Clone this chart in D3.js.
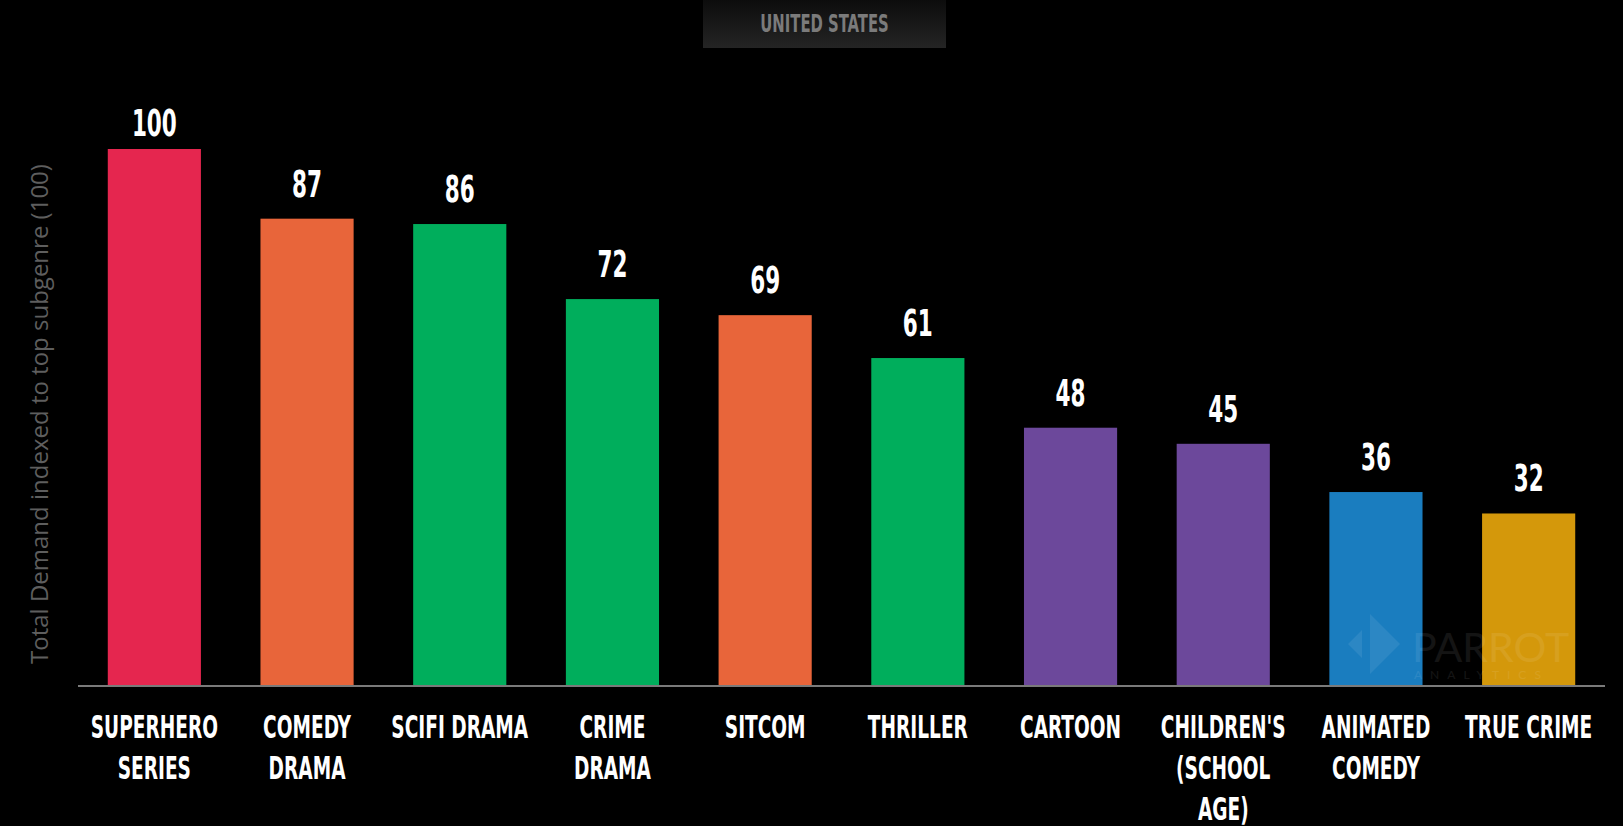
<!DOCTYPE html>
<html>
<head>
<meta charset="utf-8">
<script src="https://cdn.jsdelivr.net/npm/d3@7"></script>
<style>
  html, body { margin: 0; padding: 0; background: #000; }
  svg { display: block; }
</style>
</head>
<body>
<div id="chart"></div>
<script>
// subgenres, demand index and bar colours
var genres = ["SUPERHERO SERIES", "COMEDY DRAMA", "SCIFI DRAMA", "CRIME DRAMA", "SITCOM",
              "THRILLER", "CARTOON", "CHILDREN'S (SCHOOL AGE)", "ANIMATED COMEDY", "TRUE CRIME"];
var labelLines = [["SUPERHERO", "SERIES"], ["COMEDY", "DRAMA"], ["SCIFI DRAMA"], ["CRIME", "DRAMA"], ["SITCOM"],
                  ["THRILLER"], ["CARTOON"], ["CHILDREN'S", "(SCHOOL", "AGE)"], ["ANIMATED", "COMEDY"], ["TRUE CRIME"]];
var demand = [100, 87, 86, 72, 69, 61, 48, 45, 36, 32];
var colors = ["#e5264f", "#e8653a", "#00ae5c", "#00ae5c", "#e8653a",
              "#00ae5c", "#6c489b", "#6c489b", "#1a7dbf", "#d4980b"];

var width = 1623, height = 826;
var condensed = "'DejaVu Sans Condensed', 'Liberation Sans Narrow', sans-serif";

var svg = d3.select("#chart").append("svg")
  .attr("width", width)
  .attr("height", height)
  .style("background", "#000");

var x = d3.scaleBand()
  .domain(genres)
  .range([78, 1605])
  .paddingInner(0.39)
  .paddingOuter(0.195);

var y = d3.scaleLinear()
  .domain([0, 100])
  .range([685, 149]);

// title tab
var defs = svg.append("defs");
var grad = defs.append("linearGradient")
  .attr("id", "tabGrad")
  .attr("x1", 0).attr("y1", 0).attr("x2", 0).attr("y2", 1);
grad.append("stop").attr("offset", "0%").attr("stop-color", "#0c0c0c");
grad.append("stop").attr("offset", "100%").attr("stop-color", "#242424");

svg.append("rect")
  .attr("x", 703)
  .attr("y", 0)
  .attr("width", 243)
  .attr("height", 48)
  .style("fill", "url(#tabGrad)");

svg.append("g")
  .attr("transform", "translate(824.5,32)")
  .append("text")
  .attr("transform", "scale(0.66,1)")
  .attr("text-anchor", "middle")
  .style("font-family", condensed)
  .style("font-size", "25px")
  .style("font-weight", "bold")
  .style("fill", "#7b7b7b")
  .text("UNITED STATES");

// bars
svg.append("g")
  .selectAll("rect")
  .data(genres)
  .join("rect")
  .attr("x", function(d){ return x(d); })
  .attr("y", function(d, i){ return y(demand[i]); })
  .attr("width", x.bandwidth())
  .attr("height", function(d, i){ return y(0) - y(demand[i]); })
  .style("fill", function(d, i){ return colors[i]; });

// watermark, faint, drawn over the bars
var wm = svg.append("g").style("opacity", 0.08);
wm.append("path")
  .attr("d", "M1370,614 L1400,644 L1370,674 Z M1362,630 L1362,658 L1348,644 Z")
  .style("fill", "#fff");
wm.append("text")
  .attr("x", 1412)
  .attr("y", 662)
  .style("font-family", "Lato, sans-serif")
  .style("font-size", "41px")
  .style("fill", "#fff")
  .text("PARROT");
wm.append("text")
  .attr("x", 1414)
  .attr("y", 679)
  .style("font-family", "Lato, sans-serif")
  .style("font-size", "12px")
  .style("letter-spacing", "8px")
  .style("fill", "#fff")
  .text("ANALYTICS");

// value labels (top bar label is held below the title band)
svg.append("g")
  .selectAll("g")
  .data(genres)
  .join("g")
  .attr("transform", function(d, i){
    var ly = Math.max(y(demand[i]) - 22, 136);
    return "translate(" + (x(d) + x.bandwidth() / 2) + "," + ly + ")";
  })
  .append("text")
  .attr("transform", "scale(0.63,1)")
  .attr("text-anchor", "middle")
  .style("font-family", condensed)
  .style("font-size", "38px")
  .style("font-weight", "bold")
  .style("fill", "#fff")
  .text(function(d, i){ return demand[i]; });

// baseline
svg.append("line")
  .attr("x1", 78)
  .attr("x2", 1605)
  .attr("y1", y(0) + 1)
  .attr("y2", y(0) + 1)
  .style("stroke", "#7a7a7a")
  .style("stroke-width", 2);

// category labels
var cat = svg.append("g")
  .selectAll("g")
  .data(genres)
  .join("g")
  .attr("transform", function(d){
    return "translate(" + (x(d) + x.bandwidth() / 2) + ",0)";
  });

cat.each(function(d, i){
  var g = d3.select(this);
  labelLines[i].forEach(function(line, k){
    g.append("g")
      .attr("transform", "translate(0," + (738 + k * 41) + ")")
      .append("text")
      .attr("transform", "scale(0.645,1)")
      .attr("text-anchor", "middle")
      .style("font-family", condensed)
      .style("font-size", "32px")
      .style("font-weight", "bold")
      .style("fill", "#fff")
      .text(line);
  });
});

// y axis title
svg.append("text")
  .attr("transform", "translate(48,414) rotate(-90)")
  .attr("text-anchor", "middle")
  .style("font-family", "'Open Sans', sans-serif")
  .style("font-size", "24px")
  .style("fill", "#5e5e5e")
  .text("Total Demand indexed to top subgenre (100)");
</script>
</body>
</html>
